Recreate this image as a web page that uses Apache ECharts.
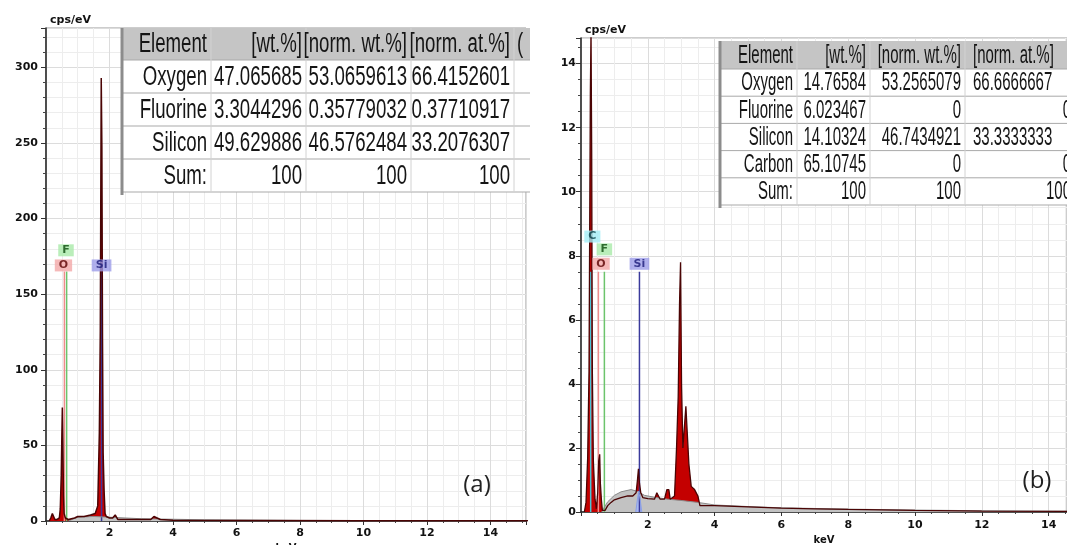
<!DOCTYPE html>
<html>
<head>
<meta charset="utf-8">
<script src="https://cdn.jsdelivr.net/npm/echarts@6/dist/echarts.min.js"></script>
<style>
  html, body { margin: 0; padding: 0; background: #fff; }
  #chart-container { width: 1067px; height: 545px; }
</style>
</head>
<body>
<div id="chart-container"></div>
<script>
// spectrum (a): [keV, cps/eV]
const spectrumA = [
  [0.1, 0], [0.15, 2], [0.2, 5], [0.24, 4], [0.28, 1], [0.35, 1], [0.42, 2],
  [0.45, 8], [0.48, 30], [0.5, 57], [0.515, 75], [0.53, 55], [0.55, 17],
  [0.57, 5], [0.61, 2], [0.7, 1], [0.9, 2], [1.0, 3], [1.2, 3], [1.4, 4],
  [1.55, 5], [1.63, 10], [1.68, 58], [1.71, 125], [1.74, 293], [1.76, 248],
  [1.78, 120], [1.8, 45], [1.83, 20], [1.86, 5], [1.9, 3], [2.0, 2], [2.1, 2],
  [2.18, 4], [2.22, 4], [2.26, 1], [2.5, 1], [3.0, 1], [3.3, 1], [3.4, 3],
  [3.45, 2], [3.6, 1], [4.0, 0.5], [6.0, 0.3], [10.0, 0.2], [15.2, 0.1],
];
const backgroundA = [
  [0.7, 0], [1.0, 2.5], [1.5, 3], [2.0, 2.5], [3.0, 1.5], [5.0, 0.8], [8.0, 0.4], [15.2, 0.1],
];

// spectrum (b)
const spectrumB = [
  [0.1, 0], [0.15, 0.3], [0.2, 1.7], [0.24, 4.4], [0.28, 13.1], [0.3, 15],
  [0.32, 11.3], [0.34, 4.4], [0.37, 1.6], [0.42, 0.4], [0.46, 0.1], [0.5, 0.6],
  [0.53, 1.6], [0.56, 1.8], [0.58, 0.9], [0.61, 0.4], [0.64, 0.05], [0.68, 0],
  [0.72, 0.05], [0.8, 0.2], [0.9, 0.3], [1.0, 0.38], [1.2, 0.45], [1.4, 0.5],
  [1.55, 0.5], [1.65, 0.6], [1.69, 1.0], [1.72, 1.35], [1.75, 0.9], [1.79, 0.6],
  [1.85, 0.45], [2.0, 0.42], [2.2, 0.4], [2.27, 0.6], [2.32, 0.55], [2.37, 0.4],
  [2.5, 0.4], [2.57, 0.7], [2.63, 0.7], [2.67, 0.4], [2.8, 0.5], [2.86, 2.0],
  [2.91, 3.6], [2.95, 6.5], [2.98, 7.8], [3.01, 4.0], [3.05, 2.0], [3.1, 2.0],
  [3.14, 3.3], [3.18, 2.5], [3.23, 1.5], [3.3, 0.8], [3.4, 0.7], [3.5, 0.5],
  [3.56, 0.2], [4.0, 0.2], [5.0, 0.16], [6.0, 0.12], [7.0, 0.1], [8.0, 0.08],
  [10.0, 0.05], [12.0, 0.03], [15.0, 0.02],
];
const backgroundB = [
  [0.62, 0], [0.7, 0.15], [0.8, 0.32], [1.0, 0.52], [1.2, 0.63], [1.5, 0.7],
  [1.7, 0.64], [1.9, 0.52], [2.2, 0.46], [2.6, 0.4], [3.0, 0.36], [3.5, 0.3],
  [4.0, 0.22], [5.0, 0.17], [6.0, 0.13], [8.0, 0.09], [10.0, 0.06], [12.0, 0.04], [15.0, 0.02],
];
const siFitB = [[1.64, 0], [1.69, 0.4], [1.73, 0.65], [1.77, 0.4], [1.82, 0]];

// element marker lines: [element, keV, top of line]
const markersA = [['O', 0.58, 165], ['F', 0.65, 165], ['Si', 1.75, 165]];
const markersB = [['C', 0.29, 7.5], ['O', 0.52, 7.5], ['F', 0.7, 7.5], ['Si', 1.75, 7.5]];
// marker labels: [element, keV, cps/eV]
const markerLabelsA = [['F', 0.63, 179], ['O', 0.55, 169], ['Si', 1.75, 169]];
const markerLabelsB = [['C', 0.34, 8.6], ['F', 0.7, 8.2], ['O', 0.6, 7.75], ['Si', 1.75, 7.75]];

// quantification tables
const tableAHeader = ['Element', '[wt.%]', '[norm. wt.%]', '[norm. at.%]', '('];
const tableARows = [
  ['Oxygen', '47.065685', '53.0659613', '66.4152601'],
  ['Fluorine', '3.3044296', '0.35779032', '0.37710917'],
  ['Silicon', '49.629886', '46.5762484', '33.2076307'],
  ['Sum:', '100', '100', '100'],
];
const tableBHeader = ['Element', '[wt.%]', '[norm. wt.%]', '[norm. at.%]'];
const tableBRows = [
  ['Oxygen', '14.76584', '53.2565079', '66.6666667'],
  ['Fluorine', '6.023467', '0', '0'],
  ['Silicon', '14.10324', '46.7434921', '33.3333333'],
  ['Carbon', '65.10745', '0', '0'],
  ['Sum:', '100', '100', '100'],
];

const elementColors = {
  O: { line: '#ef8c8c', box: '#f3a7a7', text: '#5a0000' },
  F: { line: '#6cc46c', box: '#a9eaa9', text: '#0b4a0b' },
  Si: { line: '#3a3a9c', box: '#9c9ce8', text: '#1a1a78' },
  C: { line: '#4cc3d4', box: '#a3eef6', text: '#063f46' },
};

const dom = document.getElementById('chart-container');
const myChart = echarts.init(dom, null, { renderer: 'canvas' });

const tickFont = { color: '#111', fontWeight: 'bold', fontSize: 11, fontFamily: 'DejaVu Sans' };

function xAxisFor(gridIndex, max, margin) {
  return {
    type: 'value', gridIndex: gridIndex, min: 0, max: max, interval: 2,
    name: 'keV', nameLocation: 'middle', nameGap: 19,
    nameTextStyle: { color: '#111', fontWeight: 'bold', fontSize: 10, fontFamily: 'DejaVu Sans' },
    axisLine: { onZero: false, lineStyle: { color: '#222', width: 1.5 } },
    axisTick: { length: 4, lineStyle: { color: '#333' } },
    minorTick: { show: true, splitNumber: 4, length: 2, lineStyle: { color: '#444' } },
    axisLabel: Object.assign({ showMinLabel: false, showMaxLabel: false, margin: margin }, tickFont),
    splitLine: { lineStyle: { color: '#dcdcdc' } },
    minorSplitLine: { show: true, lineStyle: { color: '#ededed' } },
  };
}

function yAxisFor(gridIndex, max, interval, minorSplit, margin) {
  return {
    type: 'value', gridIndex: gridIndex, min: 0, max: max, interval: interval,
    name: 'cps/eV', nameLocation: 'end', nameGap: 2,
    nameTextStyle: { color: '#111', fontWeight: 'bold', fontSize: 11, fontFamily: 'DejaVu Sans', align: 'left', verticalAlign: 'bottom', padding: [0, 0, 0, 4] },
    axisLine: { onZero: false, lineStyle: { color: '#222', width: 1.5 } },
    axisTick: { length: 5, lineStyle: { color: '#333' } },
    minorTick: { show: true, splitNumber: minorSplit, length: 3, lineStyle: { color: '#444' } },
    axisLabel: Object.assign({ showMaxLabel: false, margin: margin }, tickFont),
    splitLine: { lineStyle: { color: '#dcdcdc' } },
    minorSplitLine: { show: true, lineStyle: { color: '#ededed' } },
  };
}

function markerLineSeries(markers, idx) {
  return markers.map(function (m) {
    return {
      type: 'line', xAxisIndex: idx, yAxisIndex: idx, silent: true,
      symbol: 'none', data: [[m[1], 0], [m[1], m[2]]],
      lineStyle: { color: elementColors[m[0]].line, width: 1.5 },
    };
  });
}

function markerLabelSeries(labels, idx) {
  return {
    type: 'scatter', xAxisIndex: idx, yAxisIndex: idx, silent: true, z: 5,
    symbol: 'rect', symbolSize: 1, itemStyle: { color: 'rgba(0,0,0,0)' },
    data: labels.map(function (l) {
      const c = elementColors[l[0]];
      return {
        value: [l[1], l[2]], name: l[0],
        label: {
          show: true, position: 'inside', formatter: l[0],
          color: c.text, backgroundColor: c.box, padding: [1, 4, 0, 4],
          fontWeight: 'bold', fontSize: 11, fontFamily: 'DejaVu Sans',
        },
      };
    }),
  };
}

function tableGraphic(header, rows, g) {
  const els = [];
  const bodyH = g.headerH + rows.length * g.rowH;
  els.push({ type: 'rect', shape: { x: g.left, y: g.top, width: g.right - g.left, height: bodyH }, style: { fill: '#fff' }, z: 10 });
  els.push({ type: 'rect', shape: { x: g.left, y: g.top, width: g.right - g.left, height: g.headerH }, style: { fill: '#c5c5c5' }, z: 10 });
  for (let r = 0; r <= rows.length; r++) {
    const y = g.top + g.headerH + r * g.rowH;
    els.push({ type: 'line', shape: { x1: g.left, y1: y, x2: g.right, y2: y }, style: { stroke: '#a9a9a9', lineWidth: 1 }, z: 11 });
  }
  g.colRights.forEach(function (x) {
    els.push({ type: 'line', shape: { x1: x, y1: g.top, x2: x, y2: g.top + bodyH }, style: { stroke: '#d2d2d2', lineWidth: 1 }, z: 11 });
  });
  els.push({ type: 'line', shape: { x1: g.left, y1: g.top, x2: g.left, y2: g.top + bodyH + 3 }, style: { stroke: '#8c8c8c', lineWidth: 3 }, z: 12 });

  function cell(text, col, cy) {
    let x, align;
    if (col < g.colRights.length) {
      x = g.colRights[col] - g.pad; align = 'right';
    } else {
      x = g.extraLeft; align = 'left';
    }
    if (g.lastLeft && col === g.colRights.length - 1 && text.length > 4) {
      x = g.lastLeft; align = 'left';
    }
    els.push({
      type: 'text', x: x, y: cy, scaleX: g.scaleX, z: 13,
      style: { text: text, font: g.font, fill: '#151515', align: align, verticalAlign: 'middle' },
    });
  }
  header.forEach(function (t, c) { cell(t, c, g.top + g.headerH / 2 + 1); });
  rows.forEach(function (row, r) {
    const cy = g.top + g.headerH + r * g.rowH + g.rowH / 2 + 1;
    row.forEach(function (t, c) { cell(t, c, cy); });
  });
  return els;
}

const graphicEls = []
  .concat(tableGraphic(tableAHeader, tableARows, {
    left: 122, right: 530, top: 28, headerH: 32, rowH: 33,
    colRights: [211, 306, 411, 514], extraLeft: 517, pad: 4,
    font: '27px "Liberation Sans"', scaleX: 0.69,
  }))
  .concat(tableGraphic(tableBHeader, tableBRows, {
    left: 720, right: 1067, top: 41, headerH: 28, rowH: 27.2,
    colRights: [797, 870, 965, 1075], lastLeft: 973, pad: 4,
    font: '25px "Liberation Sans"', scaleX: 0.6,
  }))
  .concat([
    { type: 'text', x: 477, y: 485, z: 20, style: { text: '(a)', font: '24px "Open Sans"', fill: '#222', align: 'center', verticalAlign: 'middle' } },
    { type: 'text', x: 1037, y: 481, z: 20, style: { text: '(b)', font: '24px "Open Sans"', fill: '#222', align: 'center', verticalAlign: 'middle' } },
  ]);

const option = {
  backgroundColor: '#ffffff',
  animation: false,
  grid: [
    { left: 46, top: 28, right: 541, bottom: 24, outerBoundsMode: 'none', show: true, borderColor: '#9a9a9a', borderWidth: 1 },
    { left: 581, top: 38, right: 0, bottom: 33, outerBoundsMode: 'none', show: true, borderColor: '#9a9a9a', borderWidth: 1 },
  ],
  xAxis: [xAxisFor(0, 15.12, 7), xAxisFor(1, 14.55, 8)],
  yAxis: [yAxisFor(0, 326, 50, 5, 8), yAxisFor(1, 14.8, 2, 4, 5)],
  series: []
    .concat(markerLineSeries(markersA, 0))
    .concat([
      {
        name: 'spectrum a fill', type: 'line', xAxisIndex: 0, yAxisIndex: 0, silent: true,
        symbol: 'none', data: spectrumA, lineStyle: { width: 0 },
        areaStyle: { color: '#c40000', opacity: 1 },
      },
      {
        name: 'background a', type: 'line', xAxisIndex: 0, yAxisIndex: 0, silent: true,
        symbol: 'none', data: backgroundA, lineStyle: { color: '#8a8a8a', width: 1 },
        areaStyle: { color: '#c4c4c4', opacity: 1 },
      },
      {
        name: 'spectrum a', type: 'line', xAxisIndex: 0, yAxisIndex: 0, silent: true,
        symbol: 'none', data: spectrumA, lineStyle: { color: '#4a0404', width: 1.5 },
      },
    ])
    .concat([markerLabelSeries(markerLabelsA, 0)])
    .concat(markerLineSeries(markersB, 1))
    .concat([
      {
        name: 'spectrum b fill', type: 'line', xAxisIndex: 1, yAxisIndex: 1, silent: true,
        symbol: 'none', data: spectrumB, lineStyle: { width: 0 },
        areaStyle: { color: '#c40000', opacity: 1 },
      },
      {
        name: 'background b', type: 'line', xAxisIndex: 1, yAxisIndex: 1, silent: true,
        symbol: 'none', data: backgroundB, lineStyle: { color: '#8a8a8a', width: 1 },
        areaStyle: { color: '#c2c2c2', opacity: 1 },
      },
      {
        name: 'Si fit b', type: 'line', xAxisIndex: 1, yAxisIndex: 1, silent: true,
        symbol: 'none', data: siFitB, lineStyle: { color: '#8aa0e8', width: 1 },
        areaStyle: { color: '#a9b8f0', opacity: 1 },
      },
      {
        name: 'spectrum b', type: 'line', xAxisIndex: 1, yAxisIndex: 1, silent: true,
        symbol: 'none', data: spectrumB, lineStyle: { color: '#4a0404', width: 1.3 },
      },
    ])
    .concat([markerLabelSeries(markerLabelsB, 1)]),
  graphic: graphicEls,
};

if (option && typeof option === 'object') {
  myChart.setOption(option);
}

window.addEventListener('resize', myChart.resize);
</script>
</body>
</html>
